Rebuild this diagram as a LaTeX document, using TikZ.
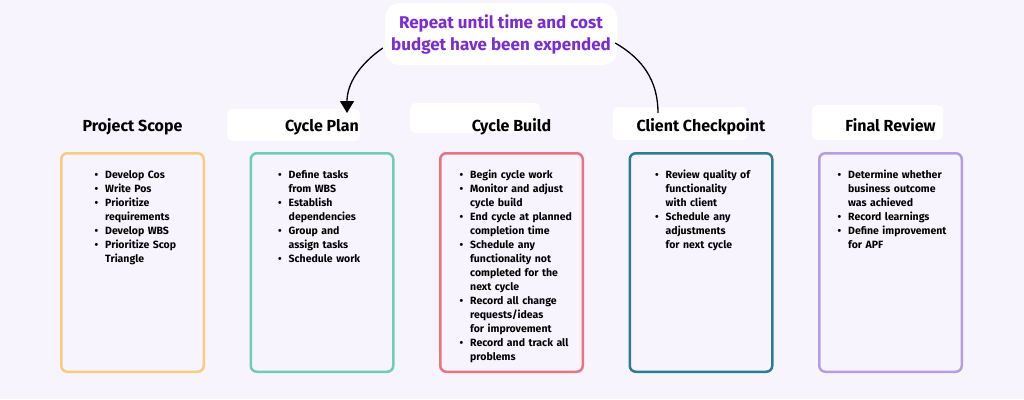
\documentclass[tikz,border=0pt]{standalone}
\usepackage{fontspec,xcolor,enumitem}
\usetikzlibrary{arrows.meta,positioning}
\setmainfont{Fira Sans}
\definecolor{LoopBack}{HTML}{F7F4FD}
\definecolor{LoopPurple}{HTML}{7A2BD4}
\definecolor{ScopeYellow}{HTML}{F6CD7C}
\definecolor{PlanTeal}{HTML}{6DCDB8}
\definecolor{BuildRed}{HTML}{E8747F}
\definecolor{CheckTeal}{HTML}{2C7E8E}
\definecolor{ReviewLilac}{HTML}{B59DE6}
\setlist[itemize]{nosep,leftmargin=14pt,labelsep=7pt,label=\textbullet}
\tikzset{stage/.style={line width=2.5pt,rounded corners=6pt,fill=LoopBack,
minimum width=142.5pt,minimum height=218.5pt,inner sep=0pt},
stagetitle/.style={anchor=base,font=\bfseries\fontsize{16}{18}\selectfont},
titlebg/.style={fill=white,rounded corners=5pt},
tasks/.style={anchor=north west,inner sep=0pt,text width=135pt,align=left,
font=\bfseries\fontsize{10.5}{14}\selectfont},
note/.style={fill=white,rounded corners=15pt,minimum width=232pt,minimum height=62pt,
align=center,text=LoopPurple,font=\bfseries\fontsize{17}{22}\selectfont},
loop/.style={line width=1.3pt,draw=black}}

\begin{document}
\begin{tikzpicture}[x=1pt,y=-1pt,node distance=44.5pt]
\fill[LoopBack](0,0)rectangle(1024,399);
\useasboundingbox(0,0)rectangle(1024,399);
% white patches behind the titles
\fill[titlebg](227,109)rectangle(360,141);
\fill[titlebg](410,103)rectangle(540,133);
\fill[titlebg](613,107)rectangle(747,140);
\fill[titlebg](812,105)rectangle(943,140);
\node[stage,draw=ScopeYellow](scope)at(132.5,262.5){};
\node[stage,draw=PlanTeal,right=of scope](plan){};
\node[stage,draw=BuildRed,right=of plan](build){};
\node[stage,draw=CheckTeal,right=of build](check){};
\node[stage,draw=ReviewLilac,right=of check](review){};
\node[stagetitle](scopet)at([yshift=21pt]scope.north){Project Scope};
\node[stagetitle](plant)at([yshift=21pt]plan.north){Cycle Plan};
\node[stagetitle](buildt)at([yshift=21pt]build.north){Cycle Build};
\node[stagetitle](checkt)at([yshift=21pt]check.north){Client Checkpoint};
\node[stagetitle](reviewt)at([yshift=21pt]review.north){Final Review};
\node[tasks](scopelist)at([xshift=31pt,yshift=-12pt]scope.north west){%
\begin{itemize}
\item Develop Cos
\item Write Pos
\item Prioritize\\requirements
\item Develop WBS
\item Prioritize Scop\\Triangle
\end{itemize}};
\node[tasks](planlist)at([xshift=25pt,yshift=-12pt]plan.north west){%
\begin{itemize}
\item Define tasks\\from WBS
\item Establish\\dependencies
\item Group and\\assign tasks
\item Schedule work
\end{itemize}};
\node[tasks](buildlist)at([xshift=17pt,yshift=-12pt]build.north west){%
\begin{itemize}
\item Begin cycle work
\item Monitor and adjust\\cycle build
\item End cycle at planned\\completion time
\item Schedule any\\functionality not\\completed for the\\next cycle
\item Record all change\\requests/ideas\\for improvement
\item Record and track all\\problems
\end{itemize}};
\node[tasks](checklist)at([xshift=23pt,yshift=-12pt]check.north west){%
\begin{itemize}
\item Review quality of\\functionality\\with client
\item Schedule any\\adjustments\\for next cycle
\end{itemize}};
\node[tasks](reviewlist)at([xshift=16pt,yshift=-12pt]review.north west){%
\begin{itemize}
\item Determine whether\\business outcome\\was achieved
\item Record learnings
\item Define improvement\\for APF
\end{itemize}};
\node[note](repeat)at(501,34){Repeat until time and cost\\budget have been expended};
\coordinate(looptip)at(347,113);
\coordinate(loopend)at(658,113);
\draw[loop,-{Triangle[width=14pt,length=12pt]}]([xshift=-2pt,yshift=-14pt]repeat.west)
to[out=215,in=90](looptip);
\draw[loop]([xshift=-2pt,yshift=-9pt]repeat.east)to[out=-30,in=90](loopend);
\end{tikzpicture}
\end{document}
